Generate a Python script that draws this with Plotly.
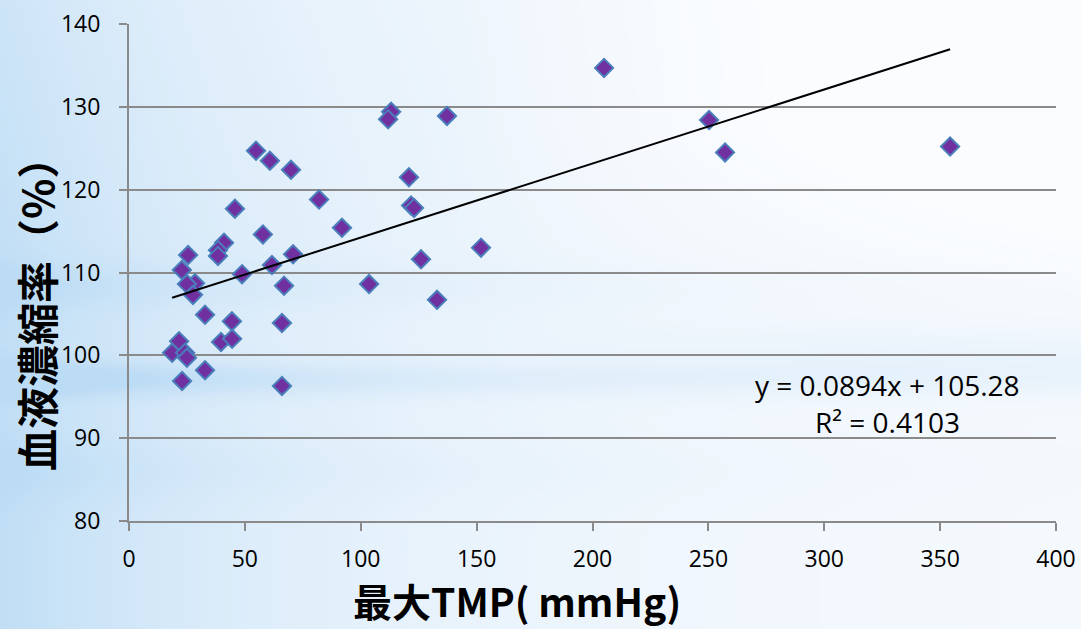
import base64
import struct
import zlib

import numpy as np
import plotly.graph_objects as go

# Maximum TMP (mmHg) and hemoconcentration ratio (%) per session
tmp_mmhg = [205.0, 250.3, 257.2, 354.3, 113.1, 111.8, 137.2, 54.8, 60.8, 69.9,
            82.0, 45.7, 91.9, 57.8, 120.8, 121.7, 123.0, 41.0, 38.4, 38.4,
            25.5, 70.8, 151.9, 126.0, 61.7, 22.8, 48.8, 28.5, 25.0, 66.9,
            103.6, 27.6, 32.8, 44.4, 66.0, 132.9, 21.6, 39.7, 44.5, 18.6,
            24.2, 25.0, 32.8, 22.9, 66.0]
hemo_pct = [134.7, 128.4, 124.5, 125.2, 129.4, 128.5, 128.9, 124.7, 123.5, 122.4,
            118.8, 117.7, 115.4, 114.6, 121.5, 118.1, 117.8, 113.6, 112.7, 112.0,
            112.1, 112.2, 113.0, 111.6, 110.9, 110.3, 109.8, 108.7, 108.6, 108.4,
            108.6, 107.3, 104.9, 104.1, 103.9, 106.7, 101.7, 101.6, 102.0, 100.3,
            100.3, 99.7, 98.2, 96.9, 96.3]

# Linear fit as reported on the chart
slope = 0.0894
intercept = 105.28
r_squared = 0.4103

x_ticks = [0, 50, 100, 150, 200, 250, 300, 350, 400]
y_ticks = [80, 90, 100, 110, 120, 130, 140]

W, H = 1081, 629
L, R, T, B = 129, 25, 24, 108
PW, PH = W - L - R, H - T - B


def png_uri(rgb):
    h, w, _ = rgb.shape
    raw = b"".join(b"\x00" + rgb[i].tobytes() for i in range(h))

    def chunk(tag, data):
        c = struct.pack(">I", len(data)) + tag + data
        return c + struct.pack(">I", zlib.crc32(tag + data) & 0xFFFFFFFF)

    png = (b"\x89PNG\r\n\x1a\n"
           + chunk(b"IHDR", struct.pack(">IIBBBBB", w, h, 8, 2, 0, 0, 0))
           + chunk(b"IDAT", zlib.compress(raw, 9))
           + chunk(b"IEND", b""))
    return "data:image/png;base64," + base64.b64encode(png).decode()


# Soft blue backdrop: strong at the left edge, fading to white, with faint horizontal streaks
sh, sw = H // 2, W // 2
yy, xx = np.mgrid[0:sh, 0:sw].astype(float)
xx *= W / sw
yy *= H / sh
base = 0.08 + 0.85 * np.exp(-xx / 330.0)
base *= 0.78 + 0.22 * np.clip(yy / 300.0, 0, 1)
streak1 = 0.45 * np.exp(-((yy - 378) / 16.0) ** 2) * np.exp(-xx / 600.0)
streak2 = 0.18 * np.exp(-((yy - 285) / 22.0) ** 2) * np.exp(-xx / 500.0)
streak3 = 0.15 * np.exp(-((yy - 360) / 30.0) ** 2) * np.clip((xx - 500) / 400.0, 0, 1)
streak4 = 0.12 * np.exp(-((yy - 470) / 30.0) ** 2) * np.exp(-xx / 500.0)
fade_top_right = np.clip(1 - (np.clip(xx - 450, 0, None) / 400.0) * np.clip((330 - yy) / 200.0, 0, 1), 0.2, 1)
b = np.clip((base + streak1 + streak2 + streak3 + streak4) * fade_top_right, 0, 1)
white = np.array([252.0, 253.0, 255.0])
blue = np.array([188.0, 220.0, 245.0])
img = (white[None, None, :] * (1 - b[..., None]) + blue[None, None, :] * b[..., None])
img = np.clip(img, 0, 255).astype(np.uint8)

fig = go.Figure()

fig.add_trace(go.Scatter(
    x=tmp_mmhg, y=hemo_pct, mode="markers",
    marker=dict(symbol="diamond", size=14, color="#7030A0",
                line=dict(color="#4A7EBB", width=2)),
    showlegend=False, hoverinfo="x+y",
))

x0, x1 = min(tmp_mmhg), max(tmp_mmhg)
fig.add_trace(go.Scatter(
    x=[x0, x1], y=[slope * x0 + intercept, slope * x1 + intercept],
    mode="lines", line=dict(color="black", width=2),
    showlegend=False, hoverinfo="skip",
))

label_font = dict(family="Open Sans, Liberation Sans, sans-serif", size=28, color="black")
fig.add_annotation(x=327.5, y=96.4, xref="x", yref="y", showarrow=False,
                   xanchor="center", yanchor="middle",
                   text=f"y = {slope}x + {intercept}", font=label_font)
fig.add_annotation(x=327.5, y=91.95, xref="x", yref="y", showarrow=False,
                   xanchor="center", yanchor="middle",
                   text=f"R² = {r_squared}", font=label_font)

# Axis titles placed as free annotations so they sit where the layout needs them
fig.add_annotation(x=(517 - L) / PW, y=(H - B - H) / PH, xref="paper", yref="paper",
                   showarrow=False, xanchor="center", yanchor="bottom", borderpad=0,
                   text="<b>最大TMP( mmHg)</b>",
                   font=dict(family="Noto Sans CJK JP, sans-serif", size=39, color="black"))
fig.add_annotation(x=(35 - L) / PW, y=(H - B - 304) / PH, xref="paper", yref="paper",
                   showarrow=False, xanchor="center", yanchor="middle", textangle=-90,
                   text="<b>血液濃縮率（%）</b>",
                   font=dict(family="Noto Sans CJK JP, sans-serif", size=42, color="black"))

axis_grey = "#8a8a8a"
tick_font = dict(family="Open Sans, Liberation Sans, sans-serif", size=23, color="black")

fig.update_xaxes(range=[0, 400], tickvals=x_ticks, showgrid=False, zeroline=False,
                 showline=True, linecolor=axis_grey, linewidth=2,
                 ticks="outside", ticklen=8, tickwidth=2, tickcolor=axis_grey,
                 tickfont=tick_font, ticklabelstandoff=8, automargin=False)
fig.update_yaxes(range=[80, 140], tickvals=y_ticks, showgrid=True, gridcolor=axis_grey,
                 gridwidth=2, zeroline=False, showline=True, linecolor=axis_grey, linewidth=2,
                 ticks="outside", ticklen=8, tickwidth=2, tickcolor=axis_grey,
                 tickfont=tick_font, ticklabelstandoff=14, automargin=False)

fig.update_layout(
    width=W, height=H,
    margin=dict(l=L, r=R, t=T, b=B),
    paper_bgcolor="white",
    plot_bgcolor="rgba(0,0,0,0)",
    images=[dict(source=png_uri(img), xref="paper", yref="paper",
                 x=-L / PW, y=1 + T / PH, sizex=W / PW, sizey=H / PH,
                 xanchor="left", yanchor="top", sizing="stretch", layer="below")],
)

fig.write_html("out.html")
